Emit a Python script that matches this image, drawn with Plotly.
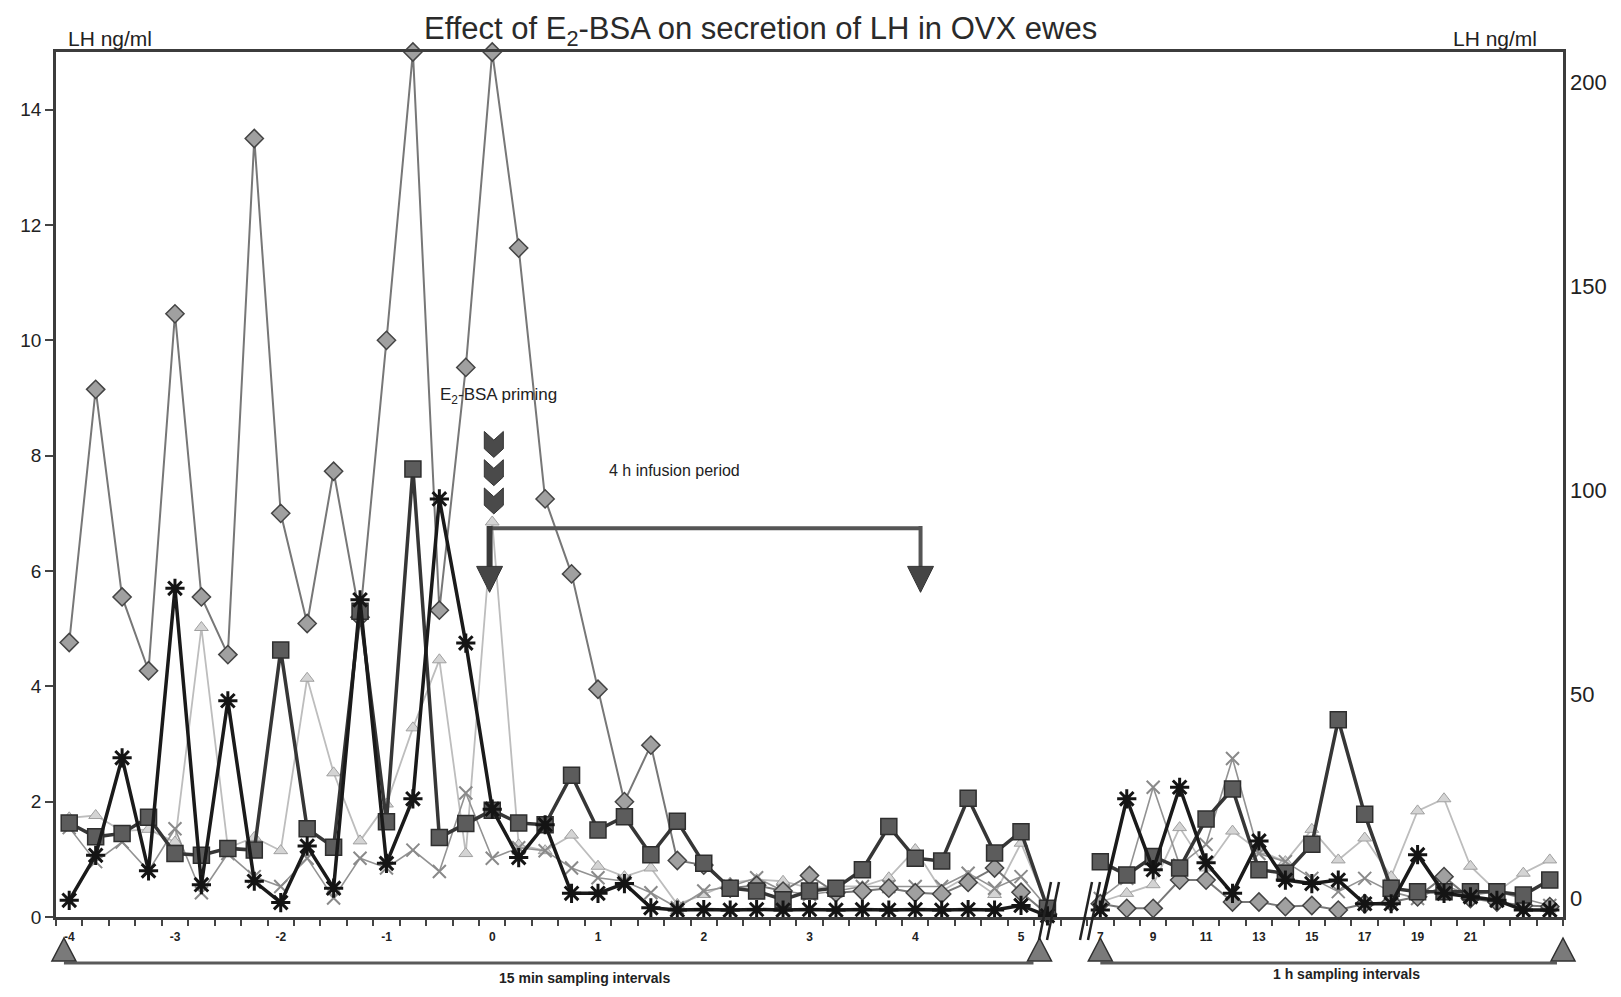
import plotly.graph_objects as go

# ---------------------------------------------------------------- data
# sampling times (h relative to E2-BSA priming)
hours_15min = [-4, -3.75, -3.5, -3.25, -3, -2.75, -2.5, -2.25, -2, -1.75, -1.5, -1.25,
               -1, -0.75, -0.5, -0.25, 0, 0.25, 0.5, 0.75, 1, 1.25, 1.5, 1.75,
               2, 2.25, 2.5, 2.75, 3, 3.25, 3.5, 3.75, 4, 4.25, 4.5, 4.75, 5, 5.25]
hours_1h = [7, 8, 9, 10, 11, 12, 13, 14, 15, 16, 17, 18, 19, 20, 21, 22, 23, 24]

# hours that carry a tick label on the category axis
labelled_15min = [-4, -3, -2, -1, 0, 1, 2, 3, 4, 5]
labelled_1h = [7, 9, 11, 13, 15, 17, 19, 21]

# LH (ng/ml) per ewe, 15 min samples then hourly samples
ewe_diamond_15 = [4.76, 9.15, 5.55, 4.27, 10.46, 5.55, 4.55, 13.5, 7.0, 5.09, 7.73, 5.2,
                  10.0, 15, 5.32, 9.53, 15, 11.6, 7.25, 5.95, 3.95, 2.0, 2.98, 0.98,
                  0.9, 0.5, 0.55, 0.45, 0.72, 0.42, 0.45, 0.5, 0.42, 0.4, 0.6, 0.85, 0.43, 0.05]
ewe_diamond_1h = [0.23, 0.15, 0.15, 0.64, 0.64, 0.26, 0.26, 0.18, 0.2, 0.12, 0.23, 0.26,
                  0.35, 0.7, 0.32, 0.26, 0.2, 0.18]

ewe_square_15 = [1.63, 1.39, 1.45, 1.73, 1.1, 1.07, 1.19, 1.16, 4.63, 1.53, 1.21, 5.3,
                 1.65, 7.77, 1.38, 1.62, 1.85, 1.63, 1.6, 2.46, 1.51, 1.74, 1.08, 1.66,
                 0.93, 0.5, 0.45, 0.3, 0.45, 0.5, 0.82, 1.57, 1.02, 0.97, 2.06, 1.11, 1.48, 0.15]
ewe_square_1h = [0.96, 0.73, 1.05, 0.85, 1.7, 2.22, 0.82, 0.76, 1.26, 3.42, 1.78, 0.5,
                 0.44, 0.44, 0.44, 0.44, 0.38, 0.64]

ewe_triangle_15 = [1.72, 1.76, 1.49, 1.52, 1.3, 5.02, 1.2, 1.38, 1.15, 4.14, 2.5, 1.32,
                   1.96, 3.28, 4.46, 1.1, 6.85, 1.25, 1.15, 1.42, 0.88, 0.7, 0.85, 0.22,
                   0.39, 0.59, 0.65, 0.62, 0.5, 0.53, 0.53, 0.68, 1.17, 0.45, 0.71, 0.39, 1.28, 0.19]
ewe_triangle_1h = [0.26, 0.41, 0.56, 1.55, 0.85, 1.49, 1.15, 0.96, 1.52, 0.99, 1.37, 0.7,
                   1.84, 2.05, 0.88, 0.44, 0.76, 0.99]

ewe_cross_15 = [1.55, 0.96, 1.3, 0.8, 1.53, 0.42, 1.1, 0.7, 0.53, 1.02, 0.33, 1.02,
                0.85, 1.16, 0.79, 2.15, 1.02, 1.2, 1.15, 0.85, 0.68, 0.62, 0.42, 0.16,
                0.45, 0.53, 0.68, 0.45, 0.39, 0.45, 0.53, 0.53, 0.53, 0.53, 0.76, 0.5, 0.7, 0.16]
ewe_cross_1h = [0.32, 0.67, 2.25, 0.9, 1.26, 2.75, 1.1, 0.96, 0.67, 0.44, 0.67, 0.44,
                0.32, 0.55, 0.38, 0.44, 0.32, 0.2]

ewe_star_15 = [0.29, 1.07, 2.76, 0.8, 5.7, 0.56, 3.75, 0.62, 0.25, 1.23, 0.5, 5.5,
               0.93, 2.05, 7.25, 4.75, 1.87, 1.03, 1.6, 0.41, 0.41, 0.58, 0.16, 0.12,
               0.13, 0.12, 0.13, 0.12, 0.13, 0.12, 0.13, 0.12, 0.13, 0.12, 0.13, 0.12, 0.2, 0.02]
ewe_star_1h = [0.12, 2.05, 0.82, 2.25, 0.94, 0.41, 1.32, 0.64, 0.58, 0.64, 0.23, 0.23,
               1.08, 0.41, 0.35, 0.29, 0.12, 0.12]

right_axis_ticks = [0, 50, 100, 150, 200]
left_axis_ticks = [0, 2, 4, 6, 8, 10, 12, 14]

# ---------------------------------------------------------------- category slots
# one slot per sample, with an empty slot marking the break in the time axis
slots = hours_15min + [None] + hours_1h
slot_x = list(range(len(slots)))
n_slots = len(slots)


def joined(a, b):
    return a + [None] + b


tick_vals = [slots.index(h) for h in labelled_15min + labelled_1h]
tick_text = [str(h) for h in labelled_15min + labelled_1h]

FONT = "Arial, 'Liberation Sans', sans-serif"

fig = go.Figure()

series = [
    (joined(ewe_triangle_15, ewe_triangle_1h),
     dict(color="#bdbdbd", width=1.8),
     dict(symbol="triangle-up", size=12, color="#d4d4d4", line=dict(color="#a0a0a0", width=1))),
    (joined(ewe_cross_15, ewe_cross_1h),
     dict(color="#929292", width=1.6),
     dict(symbol="x-thin-open", size=13, color="#8a8a8a", line=dict(color="#8a8a8a", width=2))),
    (joined(ewe_diamond_15, ewe_diamond_1h),
     dict(color="#777777", width=2),
     dict(symbol="diamond", size=14, color="#a0a0a0", line=dict(color="#444444", width=1.5))),
    (joined(ewe_square_15, ewe_square_1h),
     dict(color="#363636", width=3.5),
     dict(symbol="square", size=16, color="#5c5c5c", line=dict(color="#2e2e2e", width=1.5))),
    (joined(ewe_star_15, ewe_star_1h),
     dict(color="#1a1a1a", width=3.5),
     dict(symbol="asterisk-open", size=16, color="#141414", line=dict(color="#141414", width=3))),
]

for values, line, marker in series:
    fig.add_trace(go.Scatter(
        x=slot_x, y=values, mode="lines+markers", line=line, marker=marker,
        connectgaps=False, cliponaxis=False, showlegend=False, hoverinfo="skip"))

# the right-hand LH scale has no series of its own; an empty trace keeps it drawn
fig.add_trace(go.Scatter(x=[], y=[], yaxis="y2", showlegend=False, hoverinfo="skip"))

# ---------------------------------------------------------------- helpers for decorations
L, R, T, B = 56, 58, 52, 80
W, H = 1621, 997
PW, PH = W - L - R, H - T - B


def px(x):
    return (x - L) / PW


def py(y):
    return (H - B - y) / PH


def slot_paper(i):
    return (i + 0.5) / n_slots


shapes = []

# E2-BSA priming: three stacked chevrons above the 0 h sample
x0h = slots.index(0)
cx, hw, notch = x0h + 0.06, 0.36, 0.15
for top in (8.42, 7.93, 7.44):
    bot = top - 0.45
    shapes.append(dict(
        type="path", xref="x", yref="y",
        path=(f"M {cx - hw},{top} L {cx},{top - notch} L {cx + hw},{top} "
              f"L {cx + hw},{bot + notch} L {cx},{bot} L {cx - hw},{bot + notch} Z"),
        fillcolor="#4a4a4a", line=dict(color="#333333", width=1)))

# 4 h infusion period bracket (0 h to 4 h)
x4h = slots.index(4)
xl, xr, ybar = x0h - 0.1, x4h + 0.2, 6.74
shapes.append(dict(type="line", xref="x", yref="y", x0=xl, x1=xr, y0=ybar, y1=ybar,
                   line=dict(color="#555555", width=4)))
shapes.append(dict(type="line", xref="x", yref="y", x0=xl, x1=xl, y0=ybar + 0.04, y1=6.0,
                   line=dict(color="#3a3a3a", width=6)))
shapes.append(dict(type="line", xref="x", yref="y", x0=xr, x1=xr, y0=ybar + 0.04, y1=6.0,
                   line=dict(color="#555555", width=4)))
for xa in (xl, xr):
    shapes.append(dict(type="path", xref="x", yref="y",
                       path=f"M {xa - 0.49},6.08 L {xa + 0.49},6.08 L {xa},5.63 Z",
                       fillcolor="#454545", line=dict(color="#333333", width=1)))

# sampling-interval brackets under the time axis
ybr = py(963)


def up_triangle(xc, apex, base, half=12):
    return dict(type="path", xref="paper", yref="paper",
                path=(f"M {px(xc - half)},{py(base)} L {px(xc + half)},{py(base)} "
                      f"L {px(xc)},{py(apex)} Z"),
                fillcolor="#7a7a7a", line=dict(color="#303030", width=1.5))


for a, b in ((-0.2, 36.7), (39.0, 56.5)):
    shapes.append(dict(type="line", xref="paper", yref="paper",
                       x0=slot_paper(a), x1=slot_paper(b) - 0.004, y0=ybr, y1=ybr,
                       line=dict(color="#5a5a5a", width=3)))
for i in (-0.2, 36.7, 39.0, 56.5):
    xc = L + slot_paper(i) * PW
    shapes.append(up_triangle(xc, 938, 961))

# axis break marks
for x0 in (1039, 1047, 1080, 1088):
    shapes.append(dict(type="line", xref="paper", yref="paper",
                       x0=px(x0), y0=py(940), x1=px(x0 + 12), y1=py(882),
                       line=dict(color="#222222", width=2.5)))


def label(text, x, y, size, xref="paper", yref="paper"):
    return dict(text=text, xref=xref, yref=yref, x=x, y=y, showarrow=False,
                xanchor="center", yanchor="middle",
                font=dict(size=size, color="#222222", family=FONT))


annotations = [
    label("Effect of E<sub>2</sub>-BSA on secretion of LH in OVX ewes", px(760), py(31), 31),
    label("LH ng/ml", px(110), py(39), 21),
    label("LH ng/ml", px(1495), py(39), 21),
    label("E<sub>2</sub>-BSA priming", x0h + 0.25, 9.03, 17, "x", "y"),
    label("4 h infusion period", x0h + 6.9, 7.74, 16, "x", "y"),
    label("<b>15 min sampling intervals</b>", px(584), py(978), 14),
    label("<b>1 h sampling intervals</b>", px(1346), py(974), 14),
]
annotations[0]["font"]["color"] = "#2a2a2a"

fig.update_layout(
    width=W, height=H,
    margin=dict(l=L, r=R, t=T, b=B, pad=0),
    paper_bgcolor="white", plot_bgcolor="white",
    font=dict(family=FONT, color="#222222"),
    showlegend=False,
    shapes=shapes,
    annotations=annotations,
    xaxis=dict(
        range=[-0.5, n_slots - 0.5], showgrid=False, zeroline=False,
        showline=True, linecolor="#3c3c3c", linewidth=2.5, mirror=True,
        tickmode="array", tickvals=tick_vals, ticktext=tick_text,
        ticks="outside", ticklen=7, tickcolor="rgba(0,0,0,0)",
        tickfont=dict(size=12, weight="bold", color="#222222"),
        minor=dict(tickmode="linear", tick0=-0.5, dtick=1, ticks="outside",
                   ticklen=6, tickwidth=1.5, tickcolor="#444444", showgrid=False),
    ),
    yaxis=dict(
        range=[0, 15], showgrid=False, zeroline=False,
        showline=True, linecolor="#3c3c3c", linewidth=2.5, mirror=True,
        tickmode="array", tickvals=left_axis_ticks,
        ticks="outside", ticklen=8, tickwidth=1.5, tickcolor="#444444",
        tickfont=dict(size=19, color="#222222"),
    ),
    yaxis2=dict(
        overlaying="y", side="right", anchor="x",
        range=[-4.66, 207.4], showgrid=False, zeroline=False, showline=False,
        tickmode="array", tickvals=right_axis_ticks, ticks="",
        ticklabelstandoff=6,
        tickfont=dict(size=22, color="#222222"),
    ),
)

fig.write_html("out.html")
